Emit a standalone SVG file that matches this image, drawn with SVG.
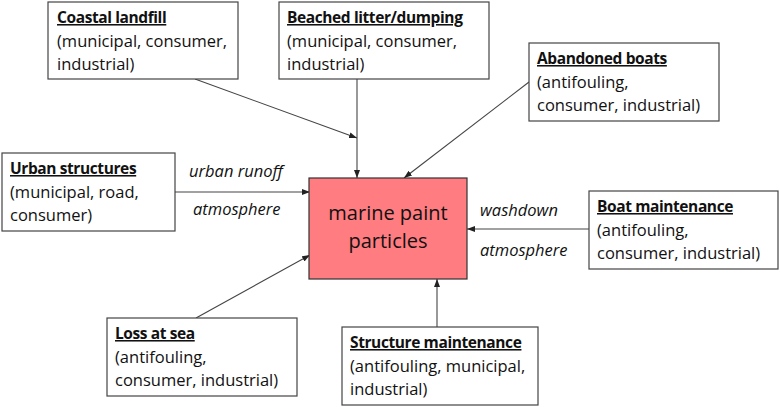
<svg xmlns="http://www.w3.org/2000/svg" width="780" height="407" viewBox="0 0 780 407">
<defs>
<marker id="ah" viewBox="0 0 8 6" refX="8" refY="3" markerWidth="8" markerHeight="6" markerUnits="userSpaceOnUse" orient="auto">
<path d="M0,0 L8,3 L0,6 Z" fill="#222"/>
</marker>
<style>
.box{fill:#fff;stroke:#444;stroke-width:1.2}
.t{font-family:"Open Sans","Liberation Sans",sans-serif;font-size:16.5px;fill:#111}
.h{font-weight:bold;text-decoration:underline;font-size:15.5px;letter-spacing:-0.4px}
.lbl{font-family:"Open Sans","Liberation Sans",sans-serif;font-size:16.5px;font-style:italic;fill:#111}
.c{stroke:#444;stroke-width:1.1;fill:none;marker-end:url(#ah)}
.m{font-family:"Open Sans","Liberation Sans",sans-serif;font-size:20px;fill:#111}
</style>
</defs>
<rect width="780" height="407" fill="#fff"/>
<g id="connectors">
<line class="c" x1="195" y1="79" x2="357" y2="138"/>
<line class="c" x1="357" y1="79" x2="357" y2="178"/>
<line class="c" x1="529" y1="82" x2="404" y2="178"/>
<line class="c" x1="175" y1="192" x2="310" y2="192"/>
<line class="c" x1="196" y1="318" x2="310" y2="255"/>
<line class="c" x1="589" y1="229" x2="467" y2="229"/>
<line class="c" x1="437" y1="327" x2="437" y2="279"/>
<text class="lbl" x="189" y="177">urban runoff</text>
<text class="lbl" x="193" y="215">atmosphere</text>
<text class="lbl" x="480" y="216">washdown</text>
<text class="lbl" x="480" y="256">atmosphere</text>
</g>
<g id="center">
<rect x="309" y="178" width="158" height="101" fill="#FF7C80" stroke="#333" stroke-width="1.2"/>
<text class="m" x="388" y="220" text-anchor="middle">marine paint</text>
<text class="m" x="388" y="248" text-anchor="middle">particles</text>
</g>
<g id="coastal-landfill">
<rect class="box" x="48" y="2" width="190" height="77"/>
<text class="t"><tspan class="h" x="57" y="23">Coastal landfill</tspan><tspan x="57" y="47">(municipal, consumer,</tspan><tspan x="57" y="70">industrial)</tspan></text>
</g>
<g id="beached-litter">
<rect class="box" x="279" y="2" width="210" height="77"/>
<text class="t"><tspan class="h" x="287" y="23">Beached litter/dumping</tspan><tspan x="287" y="47">(municipal, consumer,</tspan><tspan x="287" y="70">industrial)</tspan></text>
</g>
<g id="abandoned-boats">
<rect class="box" x="529" y="43" width="190" height="78"/>
<text class="t"><tspan class="h" x="537" y="64">Abandoned boats</tspan><tspan x="537" y="88">(antifouling,</tspan><tspan x="537" y="111">consumer, industrial)</tspan></text>
</g>
<g id="urban-structures">
<rect class="box" x="2" y="153" width="173" height="78"/>
<text class="t"><tspan class="h" x="10" y="174">Urban structures</tspan><tspan x="10" y="198">(municipal, road,</tspan><tspan x="10" y="221">consumer)</tspan></text>
</g>
<g id="boat-maintenance">
<rect class="box" x="589" y="191" width="189" height="78"/>
<text class="t"><tspan class="h" x="597" y="212">Boat maintenance</tspan><tspan x="597" y="236">(antifouling,</tspan><tspan x="597" y="259">consumer, industrial)</tspan></text>
</g>
<g id="loss-at-sea">
<rect class="box" x="107" y="318" width="190" height="78"/>
<text class="t"><tspan class="h" x="115" y="339">Loss at sea</tspan><tspan x="115" y="363">(antifouling,</tspan><tspan x="115" y="386">consumer, industrial)</tspan></text>
</g>
<g id="structure-maintenance">
<rect class="box" x="342" y="327" width="196" height="78"/>
<text class="t"><tspan class="h" x="350" y="348">Structure maintenance</tspan><tspan x="350" y="372">(antifouling, municipal,</tspan><tspan x="350" y="395">industrial)</tspan></text>
</g>
</svg>
